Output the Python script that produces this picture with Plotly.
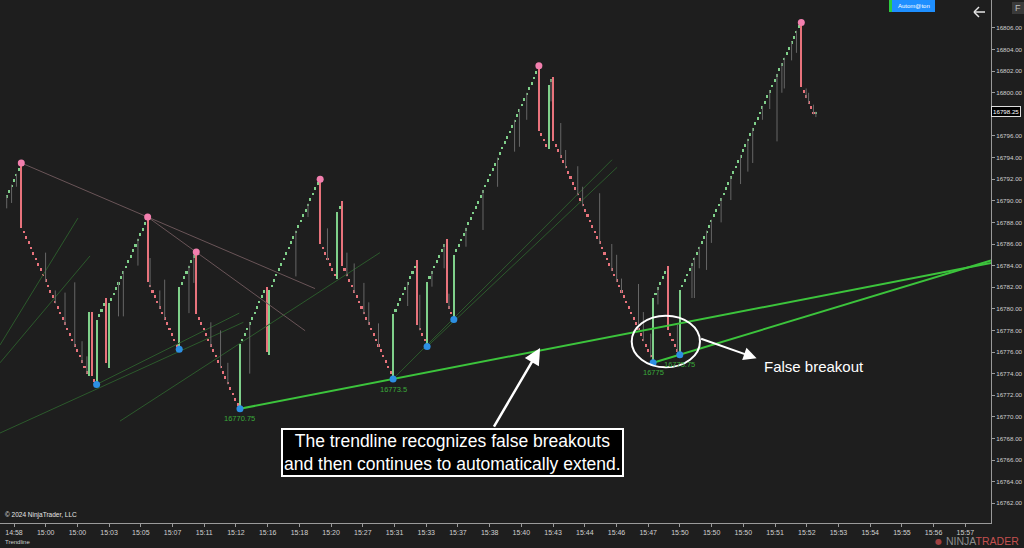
import plotly.graph_objects as go

# ---------------- DATA ----------------
closes = [
    16790.5, 16791.0, 16791.5, 16792.0, 16792.5, 16793.0,
    16787.5,
    16787.0, 16786.5, 16786.0, 16785.5, 16785.0, 16784.5, 16784.0, 16783.5, 16783.0, 16782.5,
    16782.0, 16781.5, 16781.0, 16780.5, 16780.0, 16779.5, 16779.0, 16778.5, 16778.0, 16777.5,
    16777.0, 16776.5, 16776.0, 16775.5, 16775.0, 16774.5, 16774.0,
    16779.75, 16773.75, 16773.25, 16779.0, 16779.5, 16780.0, 16780.5, 16775.0, 16780.5,
    16781.0, 16781.5, 16782.0, 16782.5, 16783.0, 16783.5, 16784.0, 16784.5, 16785.0, 16785.5,
    16786.0, 16786.5, 16787.0, 16787.5, 16788.0,
    16782.5,
    16782.0, 16781.5, 16781.0, 16780.5, 16780.0, 16779.5, 16779.0, 16778.5, 16778.0, 16777.5,
    16777.0, 16776.5,
    16782.0,
    16782.5, 16783.0, 16783.5, 16784.0, 16784.5, 16785.0,
    16779.5,
    16779.0, 16778.5, 16778.0, 16777.5, 16777.0, 16776.5, 16776.0, 16775.5, 16775.0, 16774.5,
    16774.0, 16773.5, 16773.0, 16772.5, 16772.0, 16771.5, 16771.0,
    16776.75,
    16777.25, 16777.75, 16778.25, 16778.75, 16779.25, 16779.75, 16780.25, 16780.75, 16781.25, 16781.75,
    16776.0, 16781.75,
    16782.25, 16782.75, 16783.25, 16783.75, 16784.25, 16784.75, 16785.25, 16785.75, 16786.25, 16786.75,
    16787.25, 16787.75, 16788.25, 16788.75, 16789.25, 16789.75, 16790.25, 16790.75, 16791.25, 16791.75,
    16786.0,
    16785.5, 16785.0, 16784.5, 16784.0, 16783.5, 16783.0,
    16789.0, 16789.5, 16784.0,
    16783.5, 16783.0, 16782.5, 16782.0, 16781.5, 16781.0, 16780.5, 16780.0, 16779.5, 16779.0,
    16778.5, 16778.0, 16777.5, 16777.0, 16776.5, 16776.0, 16775.5, 16775.0, 16774.5, 16774.0,
    16779.5,
    16780.0, 16780.5, 16781.0, 16781.5, 16782.0, 16782.5, 16783.0, 16783.5, 16784.0,
    16778.5,
    16778.0, 16777.5, 16777.0,
    16782.5,
    16783.0, 16783.5, 16784.0, 16784.5, 16785.0, 16785.5, 16786.0,
    16780.5,
    16780.0, 16779.5,
    16785.0,
    16785.5, 16786.0, 16786.5, 16787.0, 16787.5, 16788.0, 16788.5, 16789.0, 16789.5, 16790.0,
    16790.5, 16791.0, 16791.5, 16792.0, 16792.5, 16793.0, 16793.5, 16794.0, 16794.5, 16795.0,
    16795.5, 16796.0, 16796.5, 16797.0, 16797.5, 16798.0, 16798.5, 16799.0, 16799.5, 16800.0,
    16800.5, 16801.0, 16801.5, 16802.0,
    16796.5,
    16796.0, 16795.5, 16795.0,
    16800.75, 16801.25, 16795.5,
    16795.0, 16794.5, 16794.0, 16793.5, 16793.0, 16792.5, 16792.0, 16791.5, 16791.0, 16790.5,
    16790.0, 16789.5, 16789.0, 16788.5, 16788.0, 16787.5, 16787.0, 16786.5, 16786.0, 16785.5,
    16785.0, 16784.5, 16784.0, 16783.5, 16783.0, 16782.5, 16782.0, 16781.5, 16781.0, 16780.5,
    16780.0, 16779.5, 16779.0, 16778.5, 16778.0, 16777.5, 16777.0, 16776.5, 16776.0, 16775.5,
    16781.0,
    16781.5, 16782.0, 16782.5, 16783.0, 16783.5,
    16778.0,
    16777.5, 16777.0, 16776.5, 16776.0,
    16781.75,
    16782.25, 16782.75, 16783.25, 16783.75, 16784.25, 16784.75, 16785.25, 16785.75, 16786.25, 16786.75,
    16787.25, 16787.75, 16788.25, 16788.75, 16789.25, 16789.75, 16790.25, 16790.75, 16791.25, 16791.75,
    16792.25, 16792.75, 16793.25, 16793.75, 16794.25, 16794.75, 16795.25, 16795.75, 16796.25, 16796.75,
    16797.25, 16797.75, 16798.25, 16798.75, 16799.25, 16799.75, 16800.25, 16800.75, 16801.25, 16801.75,
    16802.25, 16802.75, 16803.25, 16803.75, 16804.25, 16804.75, 16805.25, 16805.75, 16806.25,
    16800.5,
    16800.0, 16799.5, 16799.0, 16798.5, 16798.0,
    16798.25,
]

# opens of the long reversal bars (bar index -> open)
reversal_opens = {
    6: 16793.5, 34: 16773.75, 35: 16779.75, 37: 16773.0, 41: 16781.0, 42: 16774.5,
    58: 16788.5, 71: 16776.25, 78: 16785.25, 96: 16770.75, 107: 16782.0, 108: 16775.75,
    129: 16792.0, 136: 16782.75, 138: 16790.0, 159: 16773.5, 169: 16784.5, 173: 16776.5,
    181: 16786.5, 184: 16779.0, 219: 16802.5, 223: 16794.75, 225: 16801.5, 266: 16775.0,
    272: 16784.0, 277: 16775.75, 327: 16806.5,
}

# grey wick extremes (bar index -> high for falling bars / low for rising bars)
wick_extremes = {
    0: 16789.3, 2: 16789.8, 4: 16791.3, 16: 16785.2, 20: 16781.7, 24: 16781.5, 28: 16782.45,
    31: 16777.0, 33: 16775.6, 46: 16779.3, 48: 16779.3, 54: 16784.0, 59: 16784.7, 63: 16781.7,
    65: 16782.7, 75: 16779.6, 77: 16782.4, 84: 16778.75, 88: 16778.0, 91: 16775.0, 100: 16774.0,
    119: 16783.0, 124: 16788.5, 132: 16787.45, 140: 16785.2, 143: 16784.2, 147: 16782.4,
    149: 16780.6, 153: 16778.65, 165: 16780.26, 170: 16781.3, 175: 16782.05, 180: 16783.75,
    182: 16781.4, 189: 16785.75, 196: 16787.3, 202: 16791.3, 209: 16794.55, 211: 16795.0,
    214: 16797.5, 224: 16799.2, 228: 16797.2, 230: 16794.7, 235: 16793.2, 237: 16791.3,
    244: 16790.7, 249: 16786.0, 251: 16785.0, 253: 16782.8, 260: 16782.3, 262: 16779.7,
    265: 16777.7, 268: 16780.4, 276: 16778.5, 282: 16781.0, 283: 16781.0, 285: 16783.75,
    288: 16783.6, 290: 16786.1, 294: 16788.0, 298: 16790.07, 302: 16791.55, 305: 16792.7,
    307: 16793.5, 311: 16797.5, 314: 16798.5, 317: 16795.5, 319: 16800.0, 320: 16800.4,
    323: 16803.0, 325: 16803.7, 329: 16800.4, 330: 16800.0, 332: 16798.9, 333: 16797.75,
}

swing_high_bars = [6, 58, 78, 129, 219, 327]
swing_high_prices = [16793.5, 16788.5, 16785.25, 16792.0, 16802.5, 16806.5]
swing_low_bars = [37, 71, 96, 159, 173, 184, 266, 277]
swing_low_prices = [16773.0, 16776.25, 16770.75, 16773.5, 16776.5, 16779.0, 16775.0, 16775.75]
labeled_low_bars = [96, 159, 266, 277]
labeled_low_prices = [16770.75, 16773.5, 16775.0, 16775.75]
labeled_low_texts = ["16770.75", "16773.5", "16775", "16775.75"]

# active (bright) trendlines: pairs of swing lows, extended to the right edge
bright_lines = [((96, 16770.75), (159, 16773.5)), ((266, 16775.0), (277, 16775.75))]
# older faded up-trendlines (start, end)
dim_green_lines = [
    ((-2.76, 16776.65), (29.3, 16788.4)),
    ((-2.76, 16775.0), (34.3, 16784.9)),
    ((-2.76, 16768.5), (97.4, 16778.75)),
    ((37, 16773.0), (95.7, 16779.6)),
    ((46.6, 16769.6), (153.6, 16785.2)),
    ((159, 16773.5), (249.1, 16793.8)),
    ((173, 16776.5), (251.2, 16793.1)),
]
# down-trendlines (start, end)
dim_red_lines = [
    ((6, 16793.5), (126.9, 16781.87)),
    ((58, 16788.5), (122.8, 16777.97)),
]

time_labels = ["14:58", "15:00", "15:00", "15:03", "15:05", "15:07", "15:11", "15:12", "15:16",
               "15:18", "15:20", "15:27", "15:31", "15:33", "15:37", "15:38", "15:40", "15:43",
               "15:44", "15:46", "15:47", "15:50", "15:50", "15:50", "15:51", "15:52", "15:53",
               "15:54", "15:55", "15:56", "15:57"]
price_ticks = [16762 + 2 * k for k in range(23)]
last_price = 16798.25

# ---------------- STYLE ----------------
BG = "#1e1e1e"
UP = "#7fd08a"
DN = "#e8737c"
WICK = "#666666"
FONT = "Liberation Sans, Arial, sans-serif"
X_RANGE = [-2.76, 405.06]
Y_RANGE = [16760.17, 16808.59]
PW, PH = 991.0, 523.0   # plot area in pixels


def px(x):
    return x / PW


def py(y):
    return 1 - y / PH


n = len(closes)
opens, colors, bases, heights = [], [], [], []
for i, c in enumerate(closes):
    if i in reversal_opens:
        o = reversal_opens[i]
    else:
        prev = closes[i - 1] if i > 0 else c - 0.5
        o = c - 0.25 if c > prev else c + 0.25
    opens.append(o)
    colors.append(UP if c > o else DN)
    bases.append(min(o, c))
    heights.append(abs(c - o))

wx, wy = [], []
for i, ext in wick_extremes.items():
    wx += [i, i, None]
    wy += [ext, closes[i], None]

fig = go.Figure()


def seg_trace(lines, color, width):
    xs, ys = [], []
    for (a, b) in lines:
        xs += [a[0], b[0], None]
        ys += [a[1], b[1], None]
    return go.Scatter(x=xs, y=ys, mode="lines", line=dict(color=color, width=width),
                      hoverinfo="skip", showlegend=False)


fig.add_trace(seg_trace(dim_green_lines, "#2c5a2c", 1))
fig.add_trace(seg_trace(dim_red_lines, "#6a5558", 1))

fig.add_trace(go.Scatter(x=wx, y=wy, mode="lines", line=dict(color=WICK, width=1),
                         hoverinfo="skip", showlegend=False))
fig.add_trace(go.Bar(x=list(range(n)), base=bases, y=heights, width=0.85,
                     marker=dict(color=colors, line=dict(width=0)),
                     hoverinfo="skip", showlegend=False))

ext_lines = []
for (a, b) in bright_lines:
    slope = (b[1] - a[1]) / (b[0] - a[0])
    ext_lines.append((a, (X_RANGE[1], a[1] + slope * (X_RANGE[1] - a[0]))))
fig.add_trace(seg_trace(ext_lines, "#3cc43c", 2))

fig.add_trace(go.Scatter(x=swing_high_bars, y=swing_high_prices, mode="markers",
                         marker=dict(color="#f27fae", size=7), hoverinfo="skip", showlegend=False))
fig.add_trace(go.Scatter(x=swing_low_bars, y=swing_low_prices, mode="markers",
                         marker=dict(color="#2d8fe3", size=7), hoverinfo="skip", showlegend=False))

annotations = []
for b, p, t in zip(labeled_low_bars, labeled_low_prices, labeled_low_texts):
    annotations.append(dict(x=b, y=p, text=t, showarrow=False, yshift=-10,
                            font=dict(color="#3aa83a", size=7.5, family=FONT)))


def ptext(x, y, text, size, color, anchor="center", family=FONT):
    return dict(xref="paper", yref="paper", x=px(x), y=py(y), text=text, showarrow=False,
                xanchor=anchor, yanchor="middle", font=dict(color=color, size=size, family=family))


# callouts
annotations += [
    dict(x=219.5, y=16776.37, ax=-47, ay=80, text="", showarrow=True, arrowhead=2,
         arrowsize=1.3, arrowwidth=2.5, arrowcolor="white", standoff=0),
    dict(x=308.6, y=16775.42, ax=-57, ay=-20, text="", showarrow=True, arrowhead=2,
         arrowsize=1.3, arrowwidth=2, arrowcolor="white", standoff=0),
    dict(x=310.8, y=16774.7, text="False breakout", showarrow=False, xanchor="left",
         font=dict(color="white", size=15, family=FONT)),
    dict(x=183.3, y=16766.74,
         text="The trendline recognizes false breakouts<br>and then continues to automatically extend.",
         showarrow=False, font=dict(color="white", size=17.5, family=FONT), bgcolor="black",
         bordercolor="white", borderwidth=2, borderpad=1),
    # chrome
    dict(xref="paper", yref="y", x=px(991), y=last_price, text=f"{last_price:.2f}", showarrow=False,
         xanchor="left", yanchor="middle", font=dict(color="white", size=6.2, family=FONT),
         bgcolor="black", bordercolor="#dddddd", borderwidth=1, borderpad=1),
    ptext(3, 515, "© 2024 NinjaTrader, LLC", 6.5, "#e6e6e6", anchor="left"),
    ptext(3, 542, "Trendline", 6, "#cfcfcf", anchor="left"),
    ptext(913.5, 6, "Autom@ton", 6, "white"),
    ptext(1018, 8, "F", 9, "#bdbdbd"),
    ptext(1021, 541,
          "<span style='color:#8c8c8c'>NINJA</span><span style='color:#c4504f'>TRADER</span>",
          10.5, "#8c8c8c", anchor="right"),
    ptext(938, 541, "●", 8, "#a04040", family="DejaVu Sans"),
]

shapes = [
    dict(type="circle", xref="x", yref="y", x0=257.2, x1=285.3, y0=16774.58, y1=16779.36,
         line=dict(color="white", width=2)),
    dict(type="rect", xref="paper", yref="paper", x0=px(892), x1=px(935), y0=py(12), y1=1,
         fillcolor="#1e8fff", line=dict(width=0)),
    dict(type="rect", xref="paper", yref="paper", x0=px(889), x1=px(892), y0=py(12), y1=1,
         fillcolor="#2ecc40", line=dict(width=0)),
    dict(type="rect", xref="paper", yref="paper", x0=px(1012), x1=px(1024), y0=py(14),
         y1=py(2), fillcolor="#3a3a3a", line=dict(width=0)),
    # back arrow glyph
    dict(type="line", xref="paper", yref="paper", x0=px(974), x1=px(985), y0=py(12), y1=py(12),
         line=dict(color="#e6e6e6", width=1.5)),
    dict(type="line", xref="paper", yref="paper", x0=px(974), x1=px(979), y0=py(12), y1=py(7),
         line=dict(color="#e6e6e6", width=1.5)),
    dict(type="line", xref="paper", yref="paper", x0=px(974), x1=px(979), y0=py(12), y1=py(17),
         line=dict(color="#e6e6e6", width=1.5)),
]

# hide the tick label hidden behind the last-price marker
tick_text = ["" if abs(v - last_price) < 1 else f"{v:.2f}" for v in price_ticks]

fig.update_layout(
    width=1024, height=548,
    margin=dict(l=0, r=33, t=0, b=25),
    paper_bgcolor=BG, plot_bgcolor=BG,
    bargap=0,
    annotations=annotations, shapes=shapes,
    xaxis=dict(range=X_RANGE, tickmode="array",
               tickvals=[3 + 13.05 * k for k in range(len(time_labels))], ticktext=time_labels,
               showgrid=False, zeroline=False, showline=True, linecolor="#9a9a9a", linewidth=1,
               ticks="outside", ticklen=3, tickcolor="#9a9a9a", automargin=False,
               tickfont=dict(color="#d0d0d0", size=7, family=FONT)),
    yaxis=dict(range=Y_RANGE, side="right", tickmode="array", tickvals=price_ticks,
               ticktext=tick_text, automargin=False,
               showgrid=False, zeroline=False, showline=True, linecolor="#9a9a9a", linewidth=1,
               ticks="outside", ticklen=3, tickcolor="#9a9a9a",
               tickfont=dict(color="#d0d0d0", size=6.2, family=FONT)),
)

fig.write_html("out.html", config={"displayModeBar": False},
               post_script="document.body.style.margin='0';document.body.style.background='#1e1e1e';")
